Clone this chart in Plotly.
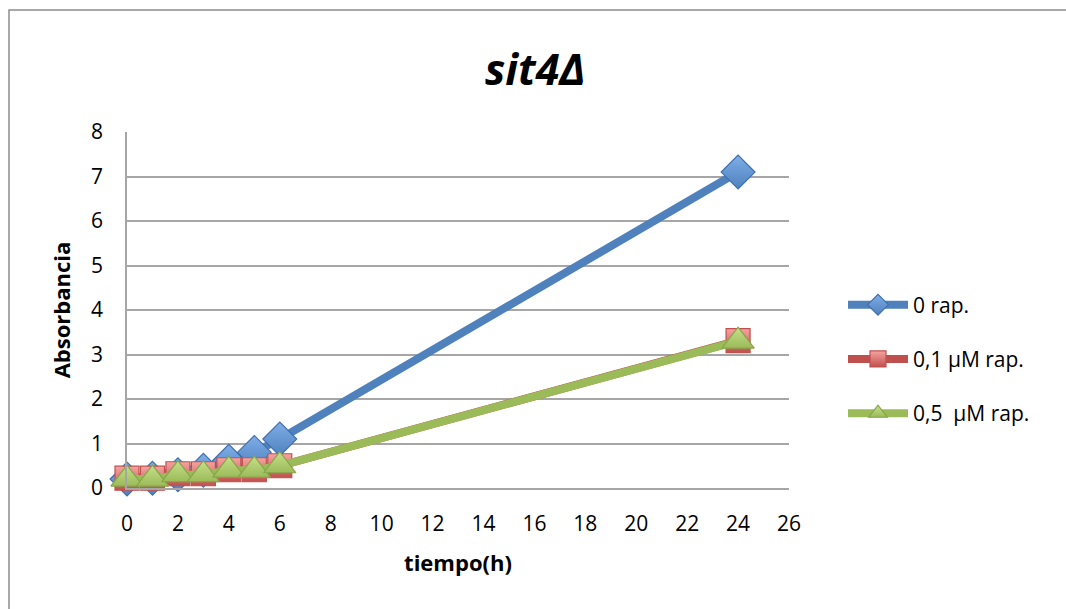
import plotly.graph_objects as go

tiempo = [0, 1, 2, 3, 4, 5, 6, 24]
rap_0 = [0.2, 0.22, 0.3, 0.4, 0.6, 0.8, 1.1, 7.1]
rap_01 = [0.22, 0.22, 0.32, 0.32, 0.41, 0.41, 0.5, 3.31]
rap_05 = [0.2, 0.2, 0.3, 0.3, 0.4, 0.4, 0.5, 3.3]
x_ticks = list(range(0, 27, 2))
y_ticks = list(range(0, 9))

FONT = "Open Sans"

series = [
    ("0 rap.", rap_0, "#4F81BD", "diamond", "#7FAEE8", "#3E6FAD", 26),
    ("0,1 \u00b5M rap.", rap_01, "#C0504D", "square", "#F5A3A1", "#C0504D", 24),
    ("0,5  \u00b5M rap.", rap_05, "#9BBB59", "triangle-up", "#C6E08A", "#86A64A", 28),
]

fig = go.Figure()
for i, (name, vals, lc, sym, mfill, mline, msize) in enumerate(series):
    fig.add_trace(go.Scatter(
        x=tiempo, y=vals, name=name, mode="lines+markers",
        line=dict(color=lc, width=8),
        marker=dict(symbol=sym, size=msize, color=mfill,
                    line=dict(color=mline, width=1.2),
                    gradient=dict(type="vertical", color=lc)),
        cliponaxis=False, legendgroup=str(i),
    ))

fig.update_layout(
    width=1066, height=609,
    margin=dict(l=127, r=277, t=132, b=121),
    paper_bgcolor="white", plot_bgcolor="white",
    font=dict(family=FONT, color="black", size=21),
    title=dict(text="<b><i>sit4\u0394</i></b>", x=0.502, xref="container",
               y=1 - 70 / 609, yref="container", xanchor="center", yanchor="middle",
               font=dict(size=43, family=FONT)),
    xaxis=dict(range=[0, 26], tickvals=x_ticks, showgrid=False, zeroline=False,
               showline=True, linecolor="#A6A6A6", linewidth=1.5,
               ticks="", ticklabelstandoff=16,
               tickfont=dict(size=21),
               title=dict(text="<b>tiempo(h)</b>", font=dict(size=22), standoff=20)),
    yaxis=dict(range=[0, 8], tickvals=y_ticks, showgrid=True, gridcolor="#A6A6A6",
               gridwidth=1.5, zeroline=False, showline=True, linecolor="#A6A6A6",
               linewidth=1.5, ticks="", ticklabelstandoff=18,
               tickfont=dict(size=21),
               title=dict(text="<b>Absorbancia</b>", font=dict(size=22), standoff=14)),
    legend=dict(x=(843 - 127) / 662, y=(488 - 359) / 356, xanchor="left", yanchor="middle",
                font=dict(size=21), itemwidth=60, tracegroupgap=24,
                bgcolor="rgba(0,0,0,0)"),
    shapes=[
        dict(type="rect", xref="paper", yref="paper",
             x0=(9 - 127) / 662, x1=(1075 - 127) / 662,
             y0=(488 - 620) / 356, y1=(488 - 10) / 356,
             line=dict(color="#8C8C8C", width=1.5), fillcolor="rgba(0,0,0,0)",
             layer="below"),
    ],
)

fig.write_html("out.html")
